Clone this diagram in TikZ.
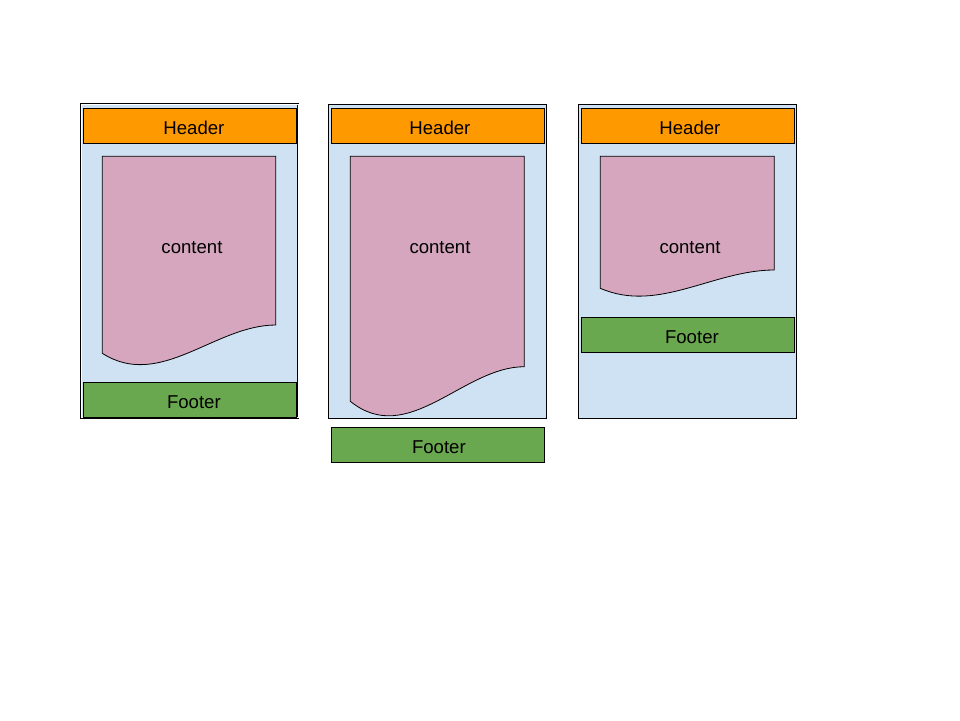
\documentclass[tikz,border=0pt]{standalone}
\usepackage{fontspec}
\setmainfont{Liberation Sans}
\usepackage{xcolor}
\definecolor{headorange}{HTML}{FF9900}
\definecolor{pageblue}{HTML}{CFE2F3}
\definecolor{docpink}{HTML}{D5A6BD}
\definecolor{footgreen}{HTML}{6AA84F}

\tikzset{
  panel/.style={draw=black, fill=pageblue, line width=0.8pt},
  bar/.style={draw=black, line width=0.8pt, minimum width=213.6pt, minimum height=34.8pt,
    inner sep=0pt, anchor=north west, text height=17pt, text depth=0pt,
    font=\fontsize{18.6}{21}\selectfont},
  headbar/.style={bar, fill=headorange},
  footbar/.style={bar, fill=footgreen},
  docpage/.style={draw=black, fill=docpink, line width=0.8pt},
  doctext/.style={font=\fontsize{18.6}{21}\selectfont, inner sep=0pt}
}

\begin{document}
\begin{tikzpicture}[x=1pt,y=-1pt]
  \useasboundingbox[fill=white] (0,0) rectangle (960,720);

  % first page: footer stays inside
  \fill[pageblue] (81,104.3) rectangle (298.3,417.7);
  \draw[double=white, double distance=0.7pt, line width=0.6pt] (81,104.3) rectangle (298.3,417.7);
  \node[headbar] (headA) at (82.7,107.7) {\hspace*{8pt}Header};
  \draw[docpage] (102.3,156.3) -- (275.7,156.3) -- (275.7,325)
    .. controls (215,325) and (160,390.3) .. (102.3,353.3) -- cycle;
  \node[doctext] (contA) at (192,248) {content};
  \node[footbar] (footA) at (82.7,381.7) {\hspace*{8pt}Footer};

  % second page: footer pushed below
  \draw[panel] (328.3,104.3) rectangle (546.7,418.3);
  \node[headbar] (headB) at (330.7,107.7) {\hspace*{4pt}Header};
  \draw[docpage] (350.3,156.3) -- (524.3,156.3) -- (524.3,366.7)
    .. controls (463.2,366.7) and (408.2,448.1) .. (350.3,401.3) -- cycle;
  \node[doctext] (contB) at (440,248) {content};
  \node[footbar] (footB) at (330.7,427.3) {\hspace*{2pt}Footer};

  % third page: footer follows short content
  \draw[panel] (578.3,104.3) rectangle (796.7,418.3);
  \node[headbar] (headC) at (580.7,107.7) {\hspace*{4pt}Header};
  \draw[docpage] (600.3,156.3) -- (774.3,156.3) -- (774.3,270)
    .. controls (713.2,270) and (658.2,313.5) .. (600.3,288.3) -- cycle;
  \node[doctext] (contC) at (690,248) {content};
  \node[footbar] (footC) at (580.7,316.7) {\hspace*{8pt}Footer};
\end{tikzpicture}
\end{document}
